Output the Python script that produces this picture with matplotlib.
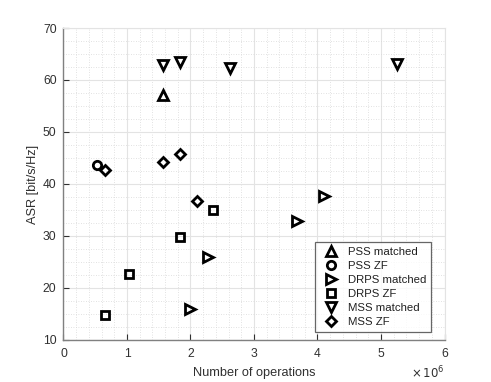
import numpy as np
import matplotlib.pyplot as plt
from matplotlib.ticker import MultipleLocator

plt.rcParams['font.family'] = ['Liberation Sans', 'DejaVu Sans']

# values (x in 1e6 operations, y in bit/s/Hz)
pss_matched_x = [1.57]
pss_matched_y = [57.2]
pss_zf_x = [0.52]
pss_zf_y = [43.6]
drps_matched_x = [2.0, 2.27, 3.68, 4.11]
drps_matched_y = [15.9, 25.9, 32.8, 37.6]
drps_zf_x = [0.66, 1.03, 1.84, 2.35]
drps_zf_y = [14.9, 22.7, 29.9, 35.0]
mss_matched_x = [1.57, 1.83, 2.62, 5.25]
mss_matched_y = [62.8, 63.4, 62.4, 63.0]
mss_zf_x = [0.66, 1.57, 1.83, 2.1]
mss_zf_y = [42.6, 44.2, 45.8, 36.8]

series = [
    ("PSS matched", pss_matched_x, pss_matched_y, "^"),
    ("PSS ZF", pss_zf_x, pss_zf_y, "o"),
    ("DRPS matched", drps_matched_x, drps_matched_y, ">"),
    ("DRPS ZF", drps_zf_x, drps_zf_y, "s"),
    ("MSS matched", mss_matched_x, mss_matched_y, "v"),
    ("MSS ZF", mss_zf_x, mss_zf_y, "D"),
]

fig = plt.figure(figsize=(4.91, 3.82), dpi=100)
ax = fig.add_axes([0.1293, 0.11, 0.776, 0.8167])

for label, xs, ys, m in series:
    ms = 5.5 if m in ("s", "D") else 6.5
    if m == "o":
        ms = 6
    ax.plot(np.array(xs) * 1e6, ys, linestyle="none", marker=m, markersize=ms,
            markerfacecolor="none", markeredgecolor="black", markeredgewidth=2,
            label=label)

ax.set_xlim(0, 6e6)
ax.set_ylim(10, 70)
ax.xaxis.set_major_locator(MultipleLocator(1e6))
ax.xaxis.set_minor_locator(MultipleLocator(0.2e6))
ax.yaxis.set_major_locator(MultipleLocator(10))
ax.yaxis.set_minor_locator(MultipleLocator(2.5))
ax.xaxis.set_major_formatter(plt.FuncFormatter(lambda v, p: f"{v / 1e6:g}"))

ax.grid(True, which="major", color="#e3e3e3", linewidth=0.8)
ax.grid(True, which="minor", color="#d8d8d8", linewidth=0.6, linestyle=(0, (1, 2)))
ax.set_axisbelow(True)

for side in ("left", "bottom"):
    ax.spines[side].set_color("#808080")
    ax.spines[side].set_linewidth(1.0)
for side in ("top", "right"):
    ax.spines[side].set_color("#e3e3e3")
    ax.spines[side].set_linewidth(0.8)

ax.tick_params(which="both", direction="in", colors="#303030", labelsize=8.7,
               top=False, right=False)
ax.tick_params(which="major", length=4)
ax.tick_params(axis="x", which="major", pad=6)
ax.tick_params(axis="y", which="major", pad=5)
ax.tick_params(which="minor", length=0)

ax.set_xlabel("Number of operations", fontsize=9.2, color="#303030", labelpad=5)
ax.set_ylabel("ASR [bit/s/Hz]", fontsize=9.2, color="#303030", labelpad=3)
fig.text(0.838, 1 - 373 / 382, r"$\times\,10^{6}$", fontsize=8.5, color="#303030",
         family="DejaVu Sans", va="center")

leg = ax.legend(loc="lower right", bbox_to_anchor=(0.965, 0.026), fontsize=8.2,
                frameon=True, fancybox=False, edgecolor="#404040",
                handletextpad=0.5, borderpad=0.4, labelspacing=0.36,
                handlelength=2.0, borderaxespad=0.0)
leg.get_frame().set_linewidth(0.9)
for t in leg.get_texts():
    t.set_color("#202020")

fig.savefig("out.png", dpi=100)
